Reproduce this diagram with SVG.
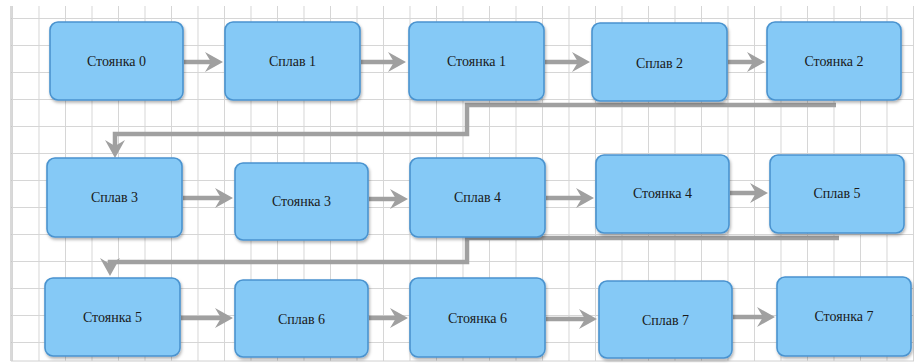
<svg xmlns="http://www.w3.org/2000/svg" width="914" height="363" viewBox="0 0 914 363">
<style>
.box{fill:#85c9f6;stroke:#4a93cf;stroke-width:1.6;filter:url(#sh)}
.lbl{font-family:"Liberation Serif","DejaVu Serif","Times New Roman",serif;font-size:14px;fill:#1a1a1a;text-anchor:middle;dominant-baseline:central}
.con{fill:none;stroke:#a0a0a0;stroke-width:4.5;marker-end:url(#ah)}
</style>
<defs>
<filter id="sh" x="-10%" y="-10%" width="125%" height="130%">
<feDropShadow dx="1" dy="2" stdDeviation="1.5" flood-color="#000" flood-opacity="0.3"/>
</filter>
<marker id="ah" markerUnits="userSpaceOnUse" viewBox="0 0 18 20" refX="6" refY="10" markerWidth="18" markerHeight="20" orient="auto">
<path d="M0,0 L18,10 L0,20 L6,10 z" fill="#a0a0a0"/>
</marker>
<pattern id="grid" x="12" y="18" width="26.5" height="27" patternUnits="userSpaceOnUse">
<path d="M0.5,0 V27 M0,0.5 H26.5" stroke="#d6d6d6" stroke-width="1" fill="none"/>
</pattern>
</defs>
<rect width="914" height="363" fill="#ffffff"/>
<rect x="11" y="6" width="903" height="355" fill="url(#grid)"/>
<line x1="11" y1="6" x2="11" y2="361" stroke="#c0c0c0" stroke-width="1.2"/>
<line x1="11" y1="361" x2="914" y2="361" stroke="#d0d0d0" stroke-width="1"/>
<g id="connectors">
<path class="con" d="M184,62 H211"/>
<path class="con" d="M361,62 H394"/>
<path class="con" d="M545,62 H578"/>
<path class="con" d="M728,62 H753"/>
<path class="con" d="M836,105 H467 V134 H115 V146"/>
<path class="con" d="M183,198 H221"/>
<path class="con" d="M369,199 H396"/>
<path class="con" d="M546,198 H582"/>
<path class="con" d="M730,193 H756"/>
<path class="con" d="M839,238 H467 V262 H110 V264"/>
<path class="con" d="M181,318 H221"/>
<path class="con" d="M369,318 H396"/>
<path class="con" d="M546,319 H585"/>
<path class="con" d="M733,317 H763"/>
</g>
<g id="n0"><rect class="box" x="50" y="22" width="133" height="78" rx="8"/><text class="lbl" x="116.5" y="61">Стоянка 0</text></g>
<g id="n1"><rect class="box" x="225" y="22" width="135" height="78" rx="8"/><text class="lbl" x="292.5" y="61">Сплав 1</text></g>
<g id="n2"><rect class="box" x="409" y="22" width="135" height="78" rx="8"/><text class="lbl" x="476.5" y="61">Стоянка 1</text></g>
<g id="n3"><rect class="box" x="592" y="23" width="135" height="78" rx="8"/><text class="lbl" x="659.5" y="63">Сплав 2</text></g>
<g id="n4"><rect class="box" x="767" y="22" width="134" height="78" rx="8"/><text class="lbl" x="834" y="61">Стоянка 2</text></g>
<g id="n5"><rect class="box" x="47" y="158" width="135" height="79" rx="8"/><text class="lbl" x="114.5" y="197">Сплав 3</text></g>
<g id="n6"><rect class="box" x="235" y="163" width="133" height="77" rx="8"/><text class="lbl" x="301.5" y="201">Стоянка 3</text></g>
<g id="n7"><rect class="box" x="410" y="158" width="135" height="79" rx="8"/><text class="lbl" x="477.5" y="197">Сплав 4</text></g>
<g id="n8"><rect class="box" x="596" y="155" width="133" height="78" rx="8"/><text class="lbl" x="662.5" y="193">Стоянка 4</text></g>
<g id="n9"><rect class="box" x="770" y="155" width="134" height="78" rx="8"/><text class="lbl" x="837" y="193">Сплав 5</text></g>
<g id="n10"><rect class="box" x="45" y="278" width="135" height="78" rx="8"/><text class="lbl" x="112.5" y="317">Стоянка 5</text></g>
<g id="n11"><rect class="box" x="235" y="280" width="133" height="77" rx="8"/><text class="lbl" x="301.5" y="319">Сплав 6</text></g>
<g id="n12"><rect class="box" x="410" y="278" width="135" height="79" rx="8"/><text class="lbl" x="477.5" y="318">Стоянка 6</text></g>
<g id="n13"><rect class="box" x="599" y="281" width="133" height="77" rx="8"/><text class="lbl" x="665.5" y="320">Сплав 7</text></g>
<g id="n14"><rect class="box" x="777" y="277" width="134" height="79" rx="8"/><text class="lbl" x="844" y="316">Стоянка 7</text></g>
</svg>
